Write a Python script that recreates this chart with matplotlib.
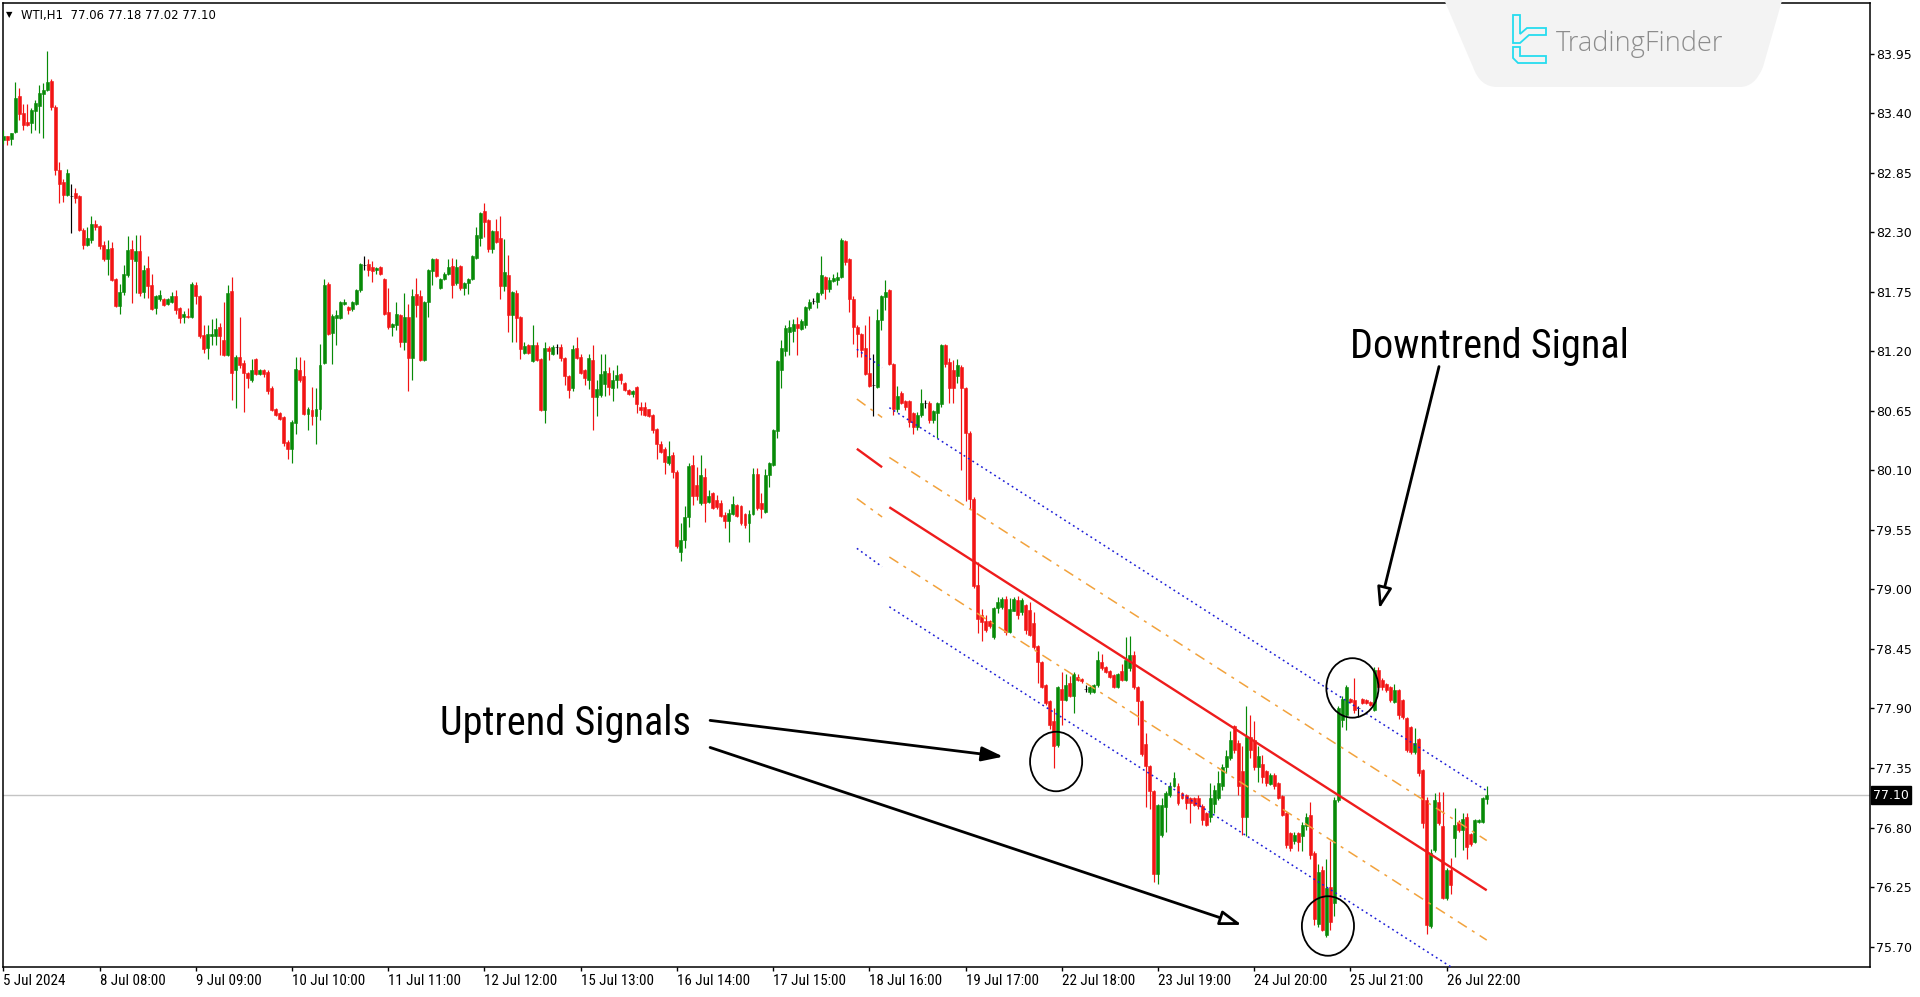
import matplotlib
matplotlib.use("Agg")
import numpy as np
import matplotlib.pyplot as plt
from matplotlib import font_manager as fm
from matplotlib.patches import Ellipse, Polygon, PathPatch
from matplotlib.path import Path

# WTI H1 candles, bar 0 = 5 Jul 2024
opens = [
    83.15, 83.19, 83.16, 83.23, 83.56, 83.40, 83.32, 83.31, 83.42, 83.47,
    83.58, 83.62, 83.70, 83.46, 82.88, 82.77, 82.65, 82.64, 82.66, 82.64,
    82.32, 82.18, 82.23, 82.38, 82.36, 82.18, 82.05, 82.16, 81.87, 81.62,
    81.75, 81.91, 82.15, 82.04, 82.13, 81.75, 81.97, 81.81, 81.60, 81.68,
    81.68, 81.64, 81.66, 81.71, 81.60, 81.52, 81.53, 81.52, 81.81, 81.71,
    81.35, 81.23, 81.34, 81.34, 81.43, 81.31, 81.17, 81.76, 81.03, 81.15,
    81.09, 81.00, 80.94, 81.13, 80.99, 81.03, 81.01, 80.86, 80.67, 80.63,
    80.59, 80.36, 80.30, 80.54, 81.03, 80.97, 80.62, 80.66, 80.60, 80.67,
    81.09, 81.82, 81.37, 81.51, 81.51, 81.64, 81.61, 81.59, 81.64, 81.77,
    82.00, 82.01, 81.98, 81.95, 81.98, 81.87, 81.56, 81.43, 81.44, 81.54,
    81.29, 81.52, 81.14, 81.73, 81.71, 81.12, 81.66, 81.94, 82.05, 81.79,
    81.87, 81.92, 81.99, 81.83, 81.99, 81.79, 81.83, 81.87, 82.06, 82.25,
    82.50, 82.41, 82.15, 82.31, 82.25, 81.80, 81.91, 81.54, 81.74, 81.52,
    81.19, 81.26, 81.11, 81.26, 81.13, 80.66, 81.23, 81.18, 81.24, 81.24,
    81.14, 80.97, 80.86, 81.23, 81.15, 81.03, 80.94, 81.12, 80.78, 80.80,
    80.90, 81.00, 80.86, 80.94, 80.99, 80.91, 80.84, 80.81, 80.87, 80.69,
    80.69, 80.67, 80.61, 80.48, 80.34, 80.30, 80.17, 80.24, 80.09, 79.35,
    79.46, 79.67, 80.15, 79.97, 79.80, 80.04, 79.81, 79.89, 79.83, 79.80,
    79.69, 79.63, 79.70, 79.78, 79.77, 79.70, 79.61, 79.70, 80.07, 79.80,
    79.72, 80.06, 80.15, 80.46, 81.03, 81.20, 81.38, 81.39, 81.45, 81.41,
    81.44, 81.60, 81.67, 81.66, 81.74, 81.89, 81.78, 81.85, 81.86, 81.89,
    82.22, 82.05, 81.68, 81.43, 81.36, 81.23, 81.00, 80.89, 80.87, 81.49,
    81.70, 81.77, 81.08, 80.67, 80.82, 80.74, 80.74, 80.63, 80.50, 80.61,
    80.72, 80.72, 80.57, 80.63, 80.71, 81.26, 81.10, 81.03, 80.97, 81.06,
    80.86, 80.45, 79.84, 79.04, 78.76, 78.71, 78.71, 78.56, 78.83, 78.84,
    78.91, 78.61, 78.80, 78.90, 78.79, 78.86, 78.81, 78.69, 78.48, 78.33,
    78.12, 77.97, 77.78, 77.56, 78.08, 77.98, 78.14, 78.02, 78.19, 78.17,
    78.08, 78.05, 78.05, 78.12, 78.33, 78.28, 78.25, 78.21, 78.10, 78.25,
    78.16, 78.27, 78.39, 78.10, 77.97, 77.57, 77.37, 77.14, 76.37, 76.73,
    76.99, 77.10, 77.18, 77.18, 77.12, 77.10, 77.07, 77.07, 77.07, 77.00,
    76.93, 76.90, 77.02, 77.07, 77.18, 77.36, 77.44, 77.74, 77.58, 77.32,
    76.90, 77.64, 77.61, 77.36, 77.39, 77.32, 77.20, 77.29, 77.21, 77.09,
    76.93, 76.75, 76.68, 76.75, 76.72, 76.81, 76.92, 76.56, 75.91, 76.41,
    75.81, 76.25, 76.10, 77.05, 77.79, 77.84, 77.99, 77.98, 77.90, 77.99,
    77.98, 77.96, 77.89, 78.26, 78.16, 78.13, 78.10, 77.96, 78.07, 77.98,
    77.81, 77.73, 77.50, 77.62, 77.33, 77.05, 75.89, 76.59, 77.04, 76.81,
    76.15, 76.41, 76.70, 76.85, 76.78, 76.90, 76.74, 76.67, 76.85, 76.85,
    77.06,
]
highs = [
    83.25, 83.19, 83.22, 83.69, 83.63, 83.49, 83.49, 83.45, 83.52, 83.66,
    83.68, 83.98, 83.72, 83.48, 82.95, 82.79, 82.89, 82.75, 82.71, 82.65,
    82.34, 82.35, 82.45, 82.41, 82.37, 82.22, 82.23, 82.21, 81.88, 81.82,
    82.00, 82.27, 82.23, 82.28, 82.28, 82.00, 82.08, 81.92, 81.72, 81.77,
    81.69, 81.69, 81.75, 81.77, 81.61, 81.57, 81.60, 81.84, 81.84, 81.72,
    81.44, 81.44, 81.50, 81.51, 81.46, 81.66, 81.81, 81.89, 81.17, 81.52,
    81.12, 81.01, 81.13, 81.14, 81.04, 81.04, 81.03, 80.88, 80.68, 80.64,
    80.60, 80.38, 80.57, 81.15, 81.15, 81.12, 80.69, 80.87, 80.86, 81.27,
    81.87, 81.84, 81.55, 81.58, 81.67, 81.68, 81.62, 81.67, 81.78, 82.02,
    82.08, 82.05, 82.04, 81.98, 81.99, 81.88, 81.79, 81.46, 81.66, 81.55,
    81.74, 81.64, 81.78, 81.88, 81.77, 81.67, 81.96, 82.06, 82.06, 81.88,
    81.93, 82.05, 82.06, 82.05, 82.00, 81.84, 81.88, 82.09, 82.35, 82.49,
    82.57, 82.42, 82.32, 82.42, 82.45, 82.24, 82.09, 81.76, 81.77, 81.53,
    81.29, 81.27, 81.44, 81.29, 81.14, 81.29, 81.25, 81.26, 81.27, 81.27,
    81.15, 80.98, 81.26, 81.33, 81.18, 81.04, 81.18, 81.26, 80.94, 81.18,
    81.18, 81.06, 81.03, 81.07, 81.00, 80.92, 80.85, 80.84, 80.88, 80.73,
    80.73, 80.67, 80.62, 80.49, 80.37, 80.32, 80.37, 80.27, 80.10, 79.61,
    79.77, 80.17, 80.24, 80.13, 80.24, 80.12, 79.92, 79.90, 79.87, 79.83,
    79.72, 79.74, 79.86, 79.79, 79.78, 79.71, 79.73, 80.12, 80.12, 79.89,
    80.11, 80.18, 80.48, 81.12, 81.31, 81.44, 81.49, 81.50, 81.52, 81.50,
    81.62, 81.68, 81.69, 81.75, 82.08, 81.90, 81.89, 81.92, 81.93, 82.25,
    82.23, 82.06, 81.71, 81.44, 81.37, 81.44, 81.53, 81.18, 81.59, 81.72,
    81.86, 81.78, 81.09, 80.88, 80.83, 80.75, 80.75, 80.64, 80.64, 80.85,
    80.75, 80.74, 80.66, 80.73, 81.27, 81.27, 81.14, 81.12, 81.13, 81.07,
    80.87, 80.46, 79.85, 79.25, 78.82, 78.76, 78.72, 78.84, 78.93, 78.93,
    78.94, 78.92, 78.93, 78.94, 78.92, 78.87, 78.88, 78.79, 78.49, 78.34,
    78.13, 77.98, 77.90, 78.11, 78.24, 78.22, 78.20, 78.24, 78.22, 78.18,
    78.12, 78.12, 78.13, 78.43, 78.40, 78.29, 78.26, 78.22, 78.23, 78.31,
    78.56, 78.57, 78.43, 78.11, 77.98, 77.67, 77.38, 77.15, 77.02, 77.07,
    77.14, 77.22, 77.31, 77.21, 77.13, 77.11, 77.08, 77.08, 77.10, 77.02,
    76.94, 77.21, 77.19, 77.32, 77.39, 77.52, 77.69, 77.75, 77.61, 77.55,
    77.92, 77.84, 77.78, 77.55, 77.47, 77.33, 77.30, 77.30, 77.22, 77.10,
    76.94, 76.76, 76.76, 76.76, 76.85, 76.93, 77.04, 76.58, 76.46, 76.44,
    76.51, 76.68, 77.08, 77.92, 78.02, 78.12, 78.00, 78.18, 77.92, 78.00,
    77.99, 77.97, 78.28, 78.28, 78.18, 78.14, 78.11, 78.13, 78.08, 77.99,
    77.82, 77.74, 77.72, 77.63, 77.34, 77.08, 76.60, 77.12, 77.13, 77.13,
    76.43, 76.52, 76.98, 76.87, 76.93, 76.93, 76.75, 76.88, 76.88, 77.08,
    77.18,
]
lows = [
    83.12, 83.11, 83.11, 83.22, 83.34, 83.25, 83.28, 83.22, 83.25, 83.22,
    83.17, 83.61, 83.43, 82.83, 82.57, 82.58, 82.64, 82.29, 82.57, 82.31,
    82.15, 82.17, 82.20, 82.32, 82.15, 82.04, 81.91, 81.85, 81.61, 81.55,
    81.72, 81.89, 81.65, 81.74, 81.71, 81.69, 81.69, 81.58, 81.55, 81.67,
    81.62, 81.63, 81.65, 81.55, 81.46, 81.46, 81.51, 81.51, 81.64, 81.32,
    81.19, 81.13, 81.26, 81.26, 81.17, 81.16, 81.16, 80.75, 80.68, 81.05,
    80.64, 80.86, 80.92, 80.98, 80.98, 80.96, 80.81, 80.65, 80.60, 80.57,
    80.33, 80.21, 80.17, 80.44, 80.92, 80.61, 80.47, 80.52, 80.34, 80.57,
    81.08, 81.35, 81.08, 81.26, 81.50, 81.63, 81.55, 81.57, 81.63, 81.75,
    81.95, 81.90, 81.84, 81.92, 81.91, 81.54, 81.41, 81.34, 81.40, 81.24,
    81.21, 80.83, 80.94, 81.52, 81.11, 81.11, 81.52, 81.81, 81.89, 81.78,
    81.86, 81.91, 81.69, 81.81, 81.77, 81.72, 81.73, 81.86, 82.05, 82.17,
    82.26, 82.12, 82.11, 82.20, 81.68, 81.76, 81.38, 81.29, 81.29, 81.13,
    81.18, 81.18, 81.10, 81.11, 80.65, 80.54, 81.12, 81.17, 81.18, 81.11,
    80.89, 80.77, 80.83, 81.13, 80.99, 80.89, 80.85, 80.47, 80.60, 80.78,
    80.79, 80.80, 80.74, 80.86, 80.90, 80.83, 80.80, 80.78, 80.63, 80.61,
    80.60, 80.59, 80.45, 80.21, 80.26, 80.07, 80.15, 80.03, 79.38, 79.26,
    79.38, 79.58, 79.78, 79.83, 79.78, 79.62, 79.80, 79.74, 79.74, 79.67,
    79.57, 79.44, 79.69, 79.67, 79.60, 79.57, 79.44, 79.69, 79.73, 79.66,
    79.71, 79.95, 80.14, 80.40, 80.86, 81.16, 81.17, 81.29, 81.17, 81.40,
    81.42, 81.58, 81.64, 81.60, 81.72, 81.68, 81.75, 81.84, 81.81, 81.88,
    82.00, 81.56, 81.27, 81.15, 81.15, 80.98, 80.87, 80.60, 80.86, 81.40,
    81.58, 81.07, 80.61, 80.64, 80.71, 80.66, 80.50, 80.44, 80.47, 80.59,
    80.68, 80.54, 80.54, 80.40, 80.69, 81.06, 80.72, 80.72, 80.91, 80.10,
    79.82, 79.74, 79.01, 78.60, 78.52, 78.61, 78.64, 78.54, 78.78, 78.82,
    78.58, 78.60, 78.80, 78.73, 78.76, 78.59, 78.57, 78.45, 78.14, 78.09,
    77.93, 77.71, 77.35, 77.54, 77.75, 77.97, 78.01, 77.86, 78.15, 78.14,
    78.05, 78.03, 78.04, 78.10, 78.26, 78.23, 78.18, 78.09, 78.09, 78.15,
    78.15, 78.25, 78.08, 77.75, 77.46, 76.99, 76.97, 76.30, 76.28, 76.71,
    76.76, 77.08, 77.17, 77.01, 77.06, 76.97, 76.84, 77.00, 76.97, 76.82,
    76.81, 76.85, 76.93, 77.05, 77.15, 77.30, 77.42, 77.49, 77.10, 76.73,
    76.72, 77.44, 77.33, 77.22, 77.21, 77.18, 77.19, 77.16, 77.06, 76.91,
    76.61, 76.58, 76.65, 76.58, 76.58, 76.78, 76.51, 75.90, 75.88, 75.84,
    75.79, 75.85, 75.98, 77.04, 77.73, 77.70, 77.95, 77.86, 77.82, 77.94,
    77.94, 77.92, 77.88, 78.08, 78.07, 78.05, 77.96, 77.95, 77.80, 77.80,
    77.50, 77.48, 77.48, 77.28, 76.80, 75.82, 75.87, 76.57, 76.82, 76.14,
    76.13, 76.19, 76.53, 76.76, 76.59, 76.51, 76.63, 76.66, 76.84, 76.84,
    77.02,
]
closes = [
    83.19, 83.15, 83.22, 83.54, 83.39, 83.29, 83.29, 83.43, 83.50, 83.59,
    83.62, 83.69, 83.46, 82.88, 82.75, 82.65, 82.85, 82.64, 82.62, 82.32,
    82.18, 82.25, 82.38, 82.35, 82.17, 82.05, 82.15, 81.86, 81.62, 81.75,
    81.92, 82.14, 82.05, 82.13, 81.74, 81.95, 81.80, 81.59, 81.71, 81.72,
    81.63, 81.68, 81.71, 81.58, 81.51, 81.55, 81.52, 81.82, 81.71, 81.34,
    81.22, 81.36, 81.36, 81.41, 81.34, 81.17, 81.74, 81.00, 81.15, 81.07,
    81.00, 80.95, 81.03, 80.99, 81.03, 80.99, 80.83, 80.66, 80.61, 80.58,
    80.35, 80.30, 80.55, 81.04, 80.94, 80.62, 80.67, 80.60, 80.67, 81.07,
    81.81, 81.36, 81.53, 81.54, 81.66, 81.66, 81.58, 81.66, 81.77, 82.01,
    82.00, 81.95, 81.94, 81.97, 81.92, 81.55, 81.43, 81.45, 81.55, 81.29,
    81.52, 81.14, 81.71, 81.63, 81.12, 81.66, 81.95, 82.05, 81.90, 81.87,
    81.92, 81.98, 81.81, 81.98, 81.79, 81.83, 81.87, 82.08, 82.28, 82.48,
    82.40, 82.15, 82.31, 82.21, 81.80, 81.93, 81.54, 81.75, 81.51, 81.22,
    81.25, 81.19, 81.26, 81.12, 80.66, 81.23, 81.20, 81.24, 81.24, 81.14,
    80.97, 80.84, 81.22, 81.14, 81.00, 80.95, 81.14, 80.78, 80.85, 80.99,
    81.02, 80.87, 80.94, 80.98, 80.94, 80.84, 80.81, 80.83, 80.71, 80.66,
    80.61, 80.60, 80.47, 80.34, 80.27, 80.18, 80.23, 80.09, 79.40, 79.46,
    79.67, 80.14, 79.86, 79.86, 80.06, 79.80, 79.86, 79.75, 79.76, 79.68,
    79.63, 79.71, 79.79, 79.68, 79.61, 79.60, 79.70, 80.07, 79.75, 79.74,
    80.06, 80.17, 80.47, 81.11, 81.23, 81.42, 81.43, 81.45, 81.42, 81.48,
    81.61, 81.66, 81.67, 81.74, 81.91, 81.78, 81.86, 81.88, 81.89, 82.23,
    82.03, 81.68, 81.43, 81.36, 81.21, 80.99, 80.88, 80.89, 81.49, 81.71,
    81.75, 81.08, 80.67, 80.79, 80.72, 80.69, 80.55, 80.50, 80.61, 80.72,
    80.72, 80.57, 80.65, 80.72, 81.26, 81.08, 80.86, 80.86, 81.07, 80.86,
    80.45, 79.84, 79.03, 78.73, 78.70, 78.63, 78.66, 78.83, 78.88, 78.91,
    78.61, 78.82, 78.91, 78.76, 78.90, 78.63, 78.58, 78.47, 78.33, 78.10,
    77.95, 77.75, 77.55, 78.10, 77.98, 78.12, 78.02, 78.22, 78.16, 78.15,
    78.08, 78.10, 78.12, 78.35, 78.27, 78.24, 78.19, 78.10, 78.22, 78.16,
    78.35, 78.39, 78.10, 77.97, 77.48, 77.37, 77.14, 76.37, 77.01, 77.01,
    77.12, 77.18, 77.26, 77.03, 77.07, 77.03, 77.03, 77.01, 77.00, 76.87,
    76.82, 77.07, 77.15, 77.21, 77.36, 77.46, 77.61, 77.52, 77.18, 76.90,
    77.64, 77.52, 77.36, 77.46, 77.27, 77.21, 77.29, 77.18, 77.07, 76.92,
    76.64, 76.61, 76.73, 76.67, 76.82, 76.90, 76.55, 75.95, 76.39, 75.85,
    76.24, 75.93, 77.05, 77.90, 77.99, 78.10, 77.96, 77.89, 77.90, 77.95,
    77.95, 77.93, 78.26, 78.10, 78.10, 78.07, 77.98, 78.07, 77.84, 77.82,
    77.52, 77.50, 77.58, 77.30, 76.84, 75.90, 76.56, 77.05, 76.84, 76.15,
    76.41, 76.27, 76.82, 76.78, 76.88, 76.62, 76.65, 76.87, 76.87, 77.07,
    77.10,
]

x_labels = ["5 Jul 2024", "8 Jul 08:00", "9 Jul 09:00", "10 Jul 10:00",
            "11 Jul 11:00", "12 Jul 12:00", "15 Jul 13:00", "16 Jul 14:00",
            "17 Jul 15:00", "18 Jul 16:00", "19 Jul 17:00", "22 Jul 18:00",
            "23 Jul 19:00", "24 Jul 20:00", "25 Jul 21:00", "26 Jul 22:00"]
label_every = 24  # bars between time labels
y_ticks = [83.95, 83.40, 82.85, 82.30, 81.75, 81.20, 80.65, 80.10,
           79.55, 79.00, 78.45, 77.90, 77.35, 76.80, 76.25, 75.70]
last_price = 77.10

# regression channel (bar, price of middle line), offsets of the bands
chan_bars = [221, 370]
chan_mid = [79.76, 76.22]
old_bars = [212.9, 219.2]      # short leftover of the previous channel
old_mid = [80.30, 80.13]
inner_off = 0.46
outer_off = 0.92

# signal circles: (bar, price)
circles = [(262.6, 77.41), (330.4, 75.89), (336.5, 78.09)]

BULL = "#078a07"
BEAR = "#f21414"
W, H = 1920, 997

# pick a condensed face for the big captions and the time axis
have = {f.name for f in fm.fontManager.ttflist}
dv_cond = any(f.name == "DejaVu Sans" and f.stretch == "condensed"
              for f in fm.fontManager.ttflist)
if "Roboto Condensed" in have:
    cond = fm.FontProperties(family="Roboto Condensed")
    big, small = 29, 10.8
elif "Liberation Sans Narrow" in have:
    cond = fm.FontProperties(family="Liberation Sans Narrow")
    big, small = 30, 10.8
elif dv_cond:
    cond = fm.FontProperties(family="DejaVu Sans", stretch="condensed")
    big, small = 25, 9.0
else:
    cond = fm.FontProperties(family="Roboto")
    big, small = 27, 9.0

fig = plt.figure(figsize=(W / 100, H / 100), dpi=100)
ax = fig.add_axes([3 / W, 30 / H, 1867 / W, 964 / H])
ax.set_xlim(-0.07, 465.6)
ax.set_ylim(75.511, 84.42)

o = np.array(opens)
hi = np.array(highs)
lo = np.array(lows)
c = np.array(closes)
idx = np.arange(len(c))
doji = np.isclose(o, c)
cols = np.where(doji, "black", np.where(c > o, BULL, BEAR))

ax.axhline(last_price, color="#c4c4c4", lw=1, zorder=1)
ax.vlines(idx, lo, hi, colors=cols, lw=0.85, zorder=3)
ax.bar(idx, np.abs(c - o), bottom=np.minimum(o, c), width=0.74,
       color=cols, edgecolor=cols, lw=0.4, zorder=3)

# channel lines
dashdot = (0, (7, 4, 2, 4))
dotted = (0, (1.2, 2.2))
for bars, mid in [(chan_bars, chan_mid), (old_bars, old_mid)]:
    ax.plot(bars, mid, color="#ee1c1c", lw=1.7, zorder=4,
            solid_capstyle="butt")
    for s in (1, -1):
        ax.plot(bars, [m + s * inner_off for m in mid], color="#f2a23c",
                lw=1.1, ls=dashdot, zorder=4)
        ax.plot(bars, [m + s * outer_off for m in mid], color="#1c1cd6",
                lw=1.1, ls=dotted, zorder=4)

for cx, cy in circles:
    ax.add_patch(Ellipse((cx, cy), 13, 0.55, fill=False, ec="black",
                         lw=1.3, zorder=6))

# annotations
ax.text(370.8, 81.14, "Downtrend Signal", ha="center", va="baseline",
        fontproperties=cond, fontsize=big, color="black", zorder=7)
ax.text(140.1, 77.655, "Uptrend Signals", ha="center", va="baseline",
        fontproperties=cond, fontsize=big, color="black", zorder=7)

def arrow(start, tip, face):
    ax.annotate("", xy=tip, xytext=start, zorder=7,
                arrowprops=dict(arrowstyle="-|>,head_length=0.65,head_width=0.22",
                                lw=2.0, edgecolor="black", facecolor=face,
                                mutation_scale=20, shrinkA=0, shrinkB=0))

arrow((358.1, 81.06), (343.2, 78.82), "white")
arrow((176.3, 77.79), (249.4, 77.455), "black")
arrow((176.3, 77.54), (308.9, 75.90), "white")

# axes look (MetaTrader style)
for sp in ax.spines.values():
    sp.set_linewidth(1.1)
    sp.set_color("black")
ax.yaxis.tick_right()
ax.set_yticks(y_ticks)
ax.set_yticklabels([f"{v:.2f}" for v in y_ticks])
ax.set_xticks(range(0, label_every * len(x_labels), label_every))
ax.set_xticklabels(x_labels)
ax.tick_params(axis="y", direction="out", length=3, width=1, pad=1.5,
               labelsize=9)
ax.tick_params(axis="x", direction="out", length=3, width=1, pad=2)
for lbl in ax.get_xticklabels():
    lbl.set_horizontalalignment("left")
    lbl.set_fontproperties(cond)
    lbl.set_fontsize(small)
for lbl in ax.get_yticklabels():
    lbl.set_family("DejaVu Sans")

ax.text(1.0015, last_price, "77.10", transform=ax.get_yaxis_transform(),
        ha="left", va="center", fontsize=9, color="white", zorder=8,
        bbox=dict(boxstyle="square,pad=0.18", fc="black", ec="black"),
        clip_on=False)

# header
fig.text(6 / W, 1 - 15 / H, "\u25bc", fontsize=6, va="center", ha="left")
fig.text(21 / W, 1 - 15 / H, "WTI,H1  77.06 77.18 77.02 77.10",
         fontsize=8.4, va="center", ha="left", family="DejaVu Sans")

# TradingFinder badge
def fp(x, y):
    return (x / W, 1 - y / H)

badge = Path([fp(1443, -3), fp(1783, -3), fp(1763, 67), fp(1755, 87),
              fp(1740, 87), fp(1497, 87), fp(1480, 87), fp(1473, 67),
              fp(1443, -3)],
             [Path.MOVETO, Path.LINETO, Path.LINETO, Path.CURVE3, Path.CURVE3,
              Path.LINETO, Path.CURVE3, Path.CURVE3, Path.CLOSEPOLY])
fig.patches.append(PathPatch(badge, transform=fig.transFigure, fc="#f3f3f3",
                             ec="none", zorder=5))
icon_a = [fp(1513, 15), fp(1520, 15), fp(1520, 34), fp(1527, 28), fp(1546, 28),
          fp(1546, 35), fp(1529, 35), fp(1520, 43), fp(1513, 43)]
icon_b = [fp(1513, 47), fp(1520, 47), fp(1520, 56), fp(1546, 56), fp(1546, 63),
          fp(1518, 63), fp(1513, 58)]
for pts in (icon_a, icon_b):
    fig.patches.append(Polygon(pts, closed=True, fill=False, ec="#25dcef",
                               lw=1.3, transform=fig.transFigure, zorder=6))
fig.text(1556 / W, 1 - 44 / H, "TradingFinder", fontsize=19.5, color="#8c8c8c",
         family=["Open Sans", "DejaVu Sans"], weight="light", va="center",
         ha="left", zorder=7)

fig.savefig("out.png", dpi=100)
